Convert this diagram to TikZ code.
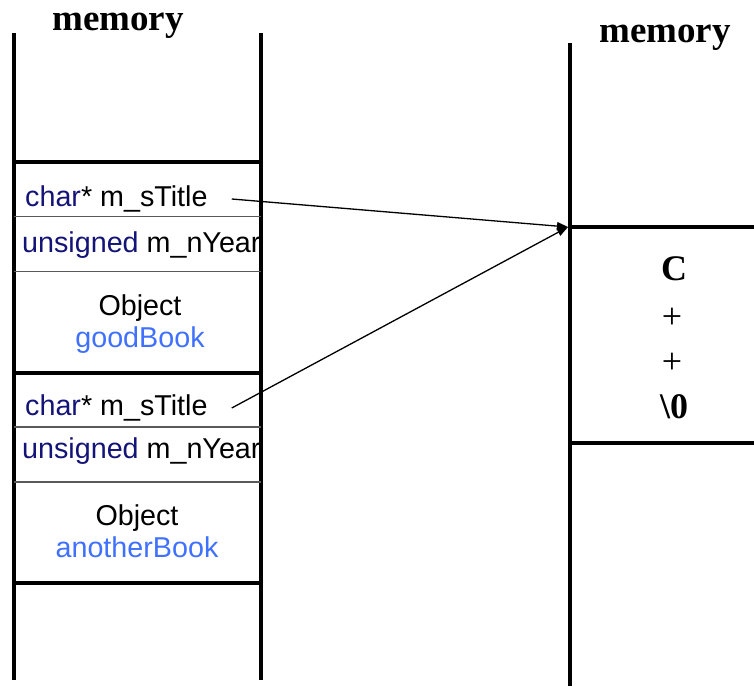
\documentclass[tikz,border=0pt]{standalone}
\usepackage{fontspec}
\setmainfont{Liberation Serif}
\newfontfamily\arialfont{Liberation Sans}
\usetikzlibrary{arrows.meta}
\definecolor{kwcol}{RGB}{20,20,120}
\definecolor{objcol}{RGB}{64,112,255}
\definecolor{rulecol}{RGB}{90,90,90}
\begin{document}
\begin{tikzpicture}[x=1pt,y=-1pt,
  wall/.style={line width=4pt},
  cellrule/.style={line width=1.2pt, draw=rulecol},
  field/.style={font=\arialfont\fontsize{28.7}{32}\selectfont, inner sep=0pt, anchor=base west},
  objlbl/.style={font=\arialfont\fontsize{28.7}{32}\selectfont, inner sep=0pt, anchor=base},
  heading/.style={font=\bfseries\fontsize{37}{40}\selectfont, inner sep=0pt, anchor=base},
  charlbl/.style={font=\fontsize{36}{40}\selectfont, inner sep=0pt, anchor=base},
  ptr/.style={line width=1.3pt, -{Triangle[length=11pt,width=8pt]}}]
\useasboundingbox (0,0) rectangle (754,686);

% headings
\node[heading] (memL) at (118,30) {memory};
\node[heading] (memR) at (665,42) {memory};

% left column texts (clipped to the column)
\begin{scope}
\clip (14,0) rectangle (260,686);
\node[field] (t1) at (25,206) {\textcolor{kwcol}{char}* m\_sTitle};
\node[field] (y1) at (22,252) {\textcolor{kwcol}{unsigned} m\_nYear};
\node[objlbl] (o1) at (140,315) {Object};
\node[objlbl, text=objcol] (n1) at (140,347) {goodBook};
\node[field] (t2) at (25,415) {\textcolor{kwcol}{char}* m\_sTitle};
\node[field] (y2) at (22,458) {\textcolor{kwcol}{unsigned} m\_nYear};
\node[objlbl] (o2) at (137,525) {Object};
\node[objlbl, text=objcol] (n2) at (137,557) {anotherBook};
\end{scope}

% left column walls and dividers
\draw[wall] (14,33) -- (14,680);
\draw[wall] (260.5,33) -- (260.5,680);
\draw[wall] (14,162) -- (260.5,162);
\draw[wall] (14,373) -- (260.5,373);
\draw[wall] (14,583) -- (260.5,583);
\draw[cellrule] (14,216.5) -- (260.5,216.5);
\draw[cellrule] (14,271.5) -- (260.5,271.5);
\draw[cellrule] (14,427) -- (260.5,427);
\draw[cellrule] (14,482) -- (260.5,482);

% right column
\draw[wall] (569.5,43) -- (569.5,686);
\draw[wall] (569.5,227) -- (754,227);
\draw[wall] (569.5,443) -- (754,443);
\node[charlbl, font=\bfseries\fontsize{36}{40}\selectfont] (c1) at (674,280) {C};
\node[charlbl] (c2) at (672,328) {+};
\node[charlbl] (c3) at (672,373) {+};
\node[charlbl, font=\bfseries\fontsize{36}{40}\selectfont] (c4) at (674,418) {\textbackslash 0};

% pointers
\coordinate (str) at (568,227);
\draw[ptr] ([xshift=24pt]t1.base east) ++(0,-7) -- (str);
\draw[ptr] ([xshift=24pt]t2.base east) ++(0,-7) -- (str);
\end{tikzpicture}
\end{document}
